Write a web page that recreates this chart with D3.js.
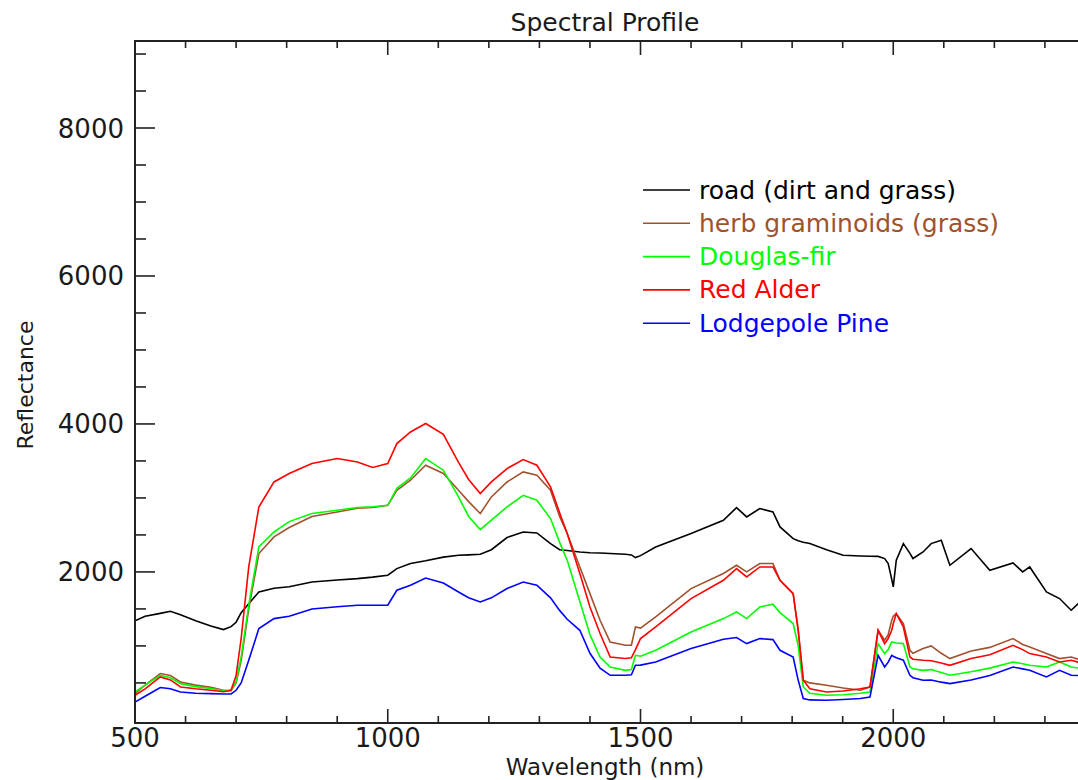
<!DOCTYPE html>
<html><head><meta charset="utf-8">
<script src="https://cdn.jsdelivr.net/npm/d3@7"></script>
<style>body{margin:0;background:#fff}svg{display:block}text{font-family:"DejaVu Sans",sans-serif;fill:#1a1a1a}</style>
</head><body><svg id="c" width="1078" height="780"></svg>
<script>
const wavelengths = [500,520,550,570,590,620,650,675,690,700,710,725,745,775,805,850,900,940,970,1000,1018,1045,1075,1110,1140,1160,1183,1205,1236,1268,1295,1322,1340,1355,1380,1400,1420,1440,1470,1482,1490,1500,1530,1600,1664,1690,1710,1736,1762,1776,1802,1812,1822,1835,1868,1901,1935,1954,1970,1983,1990,1997,2000,2006,2020,2033,2039,2059,2075,2095,2112,2154,2191,2237,2256,2270,2303,2329,2352,2366,2400];
const road   = [1340,1400,1440,1468,1420,1340,1270,1221,1260,1320,1450,1570,1729,1780,1800,1864,1890,1910,1930,1955,2045,2113,2150,2200,2225,2230,2239,2300,2465,2540,2527,2383,2300,2290,2270,2260,2255,2250,2239,2230,2194,2220,2337,2519,2699,2870,2743,2857,2811,2608,2450,2420,2400,2383,2300,2225,2215,2212,2210,2180,2113,1900,1797,2158,2383,2250,2181,2270,2383,2428,2090,2316,2023,2121,2000,2067,1729,1640,1482,1572,1600];
const herb   = [355,470,626,600,512,470,440,400,395,500,800,1500,2248,2473,2600,2750,2811,2860,2870,2901,3104,3239,3442,3330,3104,2950,2789,3014,3216,3352,3307,3104,2750,2519,2067,1707,1346,1053,1008,1010,1256,1240,1391,1775,1978,2090,2000,2113,2113,1887,1707,1211,535,500,468,430,400,445,1211,1076,1150,1346,1400,1437,1302,941,900,964,1000,900,829,930,980,1099,1020,986,896,829,850,820,800];
const fir    = [377,470,603,570,490,450,425,395,400,520,850,1550,2337,2540,2680,2790,2834,2870,2880,2901,3130,3270,3533,3375,3014,2750,2573,2700,2878,3036,2969,2721,2400,2158,1600,1150,850,715,670,680,873,860,941,1188,1369,1459,1369,1526,1563,1450,1302,1000,445,360,333,340,360,377,1031,896,950,1053,1050,1040,1031,715,690,670,680,640,603,650,700,783,760,738,715,783,715,700,700];
const alder  = [333,420,580,540,445,420,400,380,400,600,1100,2067,2878,3216,3330,3465,3533,3487,3411,3465,3735,3892,4006,3860,3480,3250,3059,3216,3397,3519,3442,3149,2800,2519,1978,1526,1167,850,829,840,950,1099,1256,1640,1887,2045,1932,2067,2067,1887,1707,1211,535,420,377,390,420,445,1211,1031,1100,1211,1300,1437,1256,850,820,806,800,770,738,830,880,1008,950,896,850,783,806,780,790];
const pine   = [240,320,437,420,377,360,355,350,350,400,500,806,1234,1369,1400,1500,1530,1549,1549,1549,1752,1820,1918,1850,1729,1650,1594,1650,1775,1864,1820,1650,1480,1360,1211,900,700,603,603,610,738,740,783,964,1090,1113,1031,1099,1085,941,850,535,288,270,265,275,290,310,873,715,780,873,860,840,806,603,570,535,540,510,490,540,600,715,690,670,580,670,603,600,620];
const seriesNames  = ["road (dirt and grass)","herb graminoids (grass)","Douglas-fir","Red Alder","Lodgepole Pine"];
const seriesColors = ["#000000","#a0522d","#00ff00","#ff0000","#0000ff"];
const xMajorTicks = [500,1000,1500,2000,2500];
const xTickLabels = ["500","1000","1500","2000"];
const yMajorTicks = [2000,4000,6000,8000];

const svg = d3.select("#c");
const L = 135, T = 41, B = 723, W = 1078;
const x = d3.scaleLinear().domain([500,2500]).range([L, L + 2000*0.5055]);
const y = d3.scaleLinear().domain([-42,9176]).range([B, T]);

svg.append("clipPath").attr("id","pc").append("rect")
  .attr("x",L).attr("y",T).attr("width",W-L).attr("height",B-T);

const all = [road, herb, fir, alder, pine];
const line = d3.line().x(d=>x(d[0])).y(d=>y(d[1]));
const g = svg.append("g").attr("clip-path","url(#pc)");
all.forEach((vals,i)=>{
  g.append("path").datum(wavelengths.map((w,j)=>[w,vals[j]]))
   .attr("d",line).attr("fill","none").attr("stroke",seriesColors[i]).attr("stroke-width",1.6);
});

// axes
const xMinor = d3.range(500,2501,100);
const yMinor = d3.range(0,9001,500);
const ax = svg.append("g").attr("stroke","#222");
ax.append("line").attr("x1",L).attr("x2",W).attr("y1",B).attr("y2",B).attr("stroke-width",2);
ax.append("line").attr("x1",L).attr("x2",W).attr("y1",T).attr("y2",T).attr("stroke-width",2);
ax.append("line").attr("x1",L).attr("x2",L).attr("y1",T-1).attr("y2",B+1).attr("stroke-width",2);
xMinor.forEach(v=>{
  const maj = xMajorTicks.includes(v);
  const len = maj ? 14 : 7;
  ax.append("line").attr("x1",x(v)).attr("x2",x(v)).attr("y1",B).attr("y2",B-len).attr("stroke-width",1.6);
  ax.append("line").attr("x1",x(v)).attr("x2",x(v)).attr("y1",T).attr("y2",T+len).attr("stroke-width",1.6);
});
yMinor.forEach(v=>{
  if (v===0) return;
  const maj = yMajorTicks.includes(v);
  const len = maj ? 20 : 11;
  ax.append("line").attr("x1",L).attr("x2",L+len).attr("y1",y(v)).attr("y2",y(v)).attr("stroke-width",1.6);
});
// tick labels
xTickLabels.forEach(s=>{
  svg.append("text").attr("x",x(+s)).attr("y",747).attr("text-anchor","middle").attr("font-size",26).text(s);
});
yMajorTicks.forEach(v=>{
  svg.append("text").attr("x",124).attr("y",y(v)+9.5).attr("text-anchor","end").attr("font-size",26).text(v);
});
svg.append("text").attr("x",605).attr("y",31).attr("text-anchor","middle").attr("font-size",25).text("Spectral Profile");
svg.append("text").attr("x",605).attr("y",775).attr("text-anchor","middle").attr("font-size",23).text("Wavelength (nm)");
svg.append("text").attr("transform","translate(33,385) rotate(-90)").attr("text-anchor","middle").attr("font-size",22).text("Reflectance");

// legend
seriesNames.forEach((n,i)=>{
  const yy = 190 + i*33.3;
  svg.append("line").attr("x1",643).attr("x2",690).attr("y1",yy).attr("y2",yy).attr("stroke",seriesColors[i]).attr("stroke-width",1.6);
  svg.append("text").attr("x",699).attr("y",yy+8.5).attr("font-size",25).style("fill",seriesColors[i]).text(n);
});
</script></body></html>
